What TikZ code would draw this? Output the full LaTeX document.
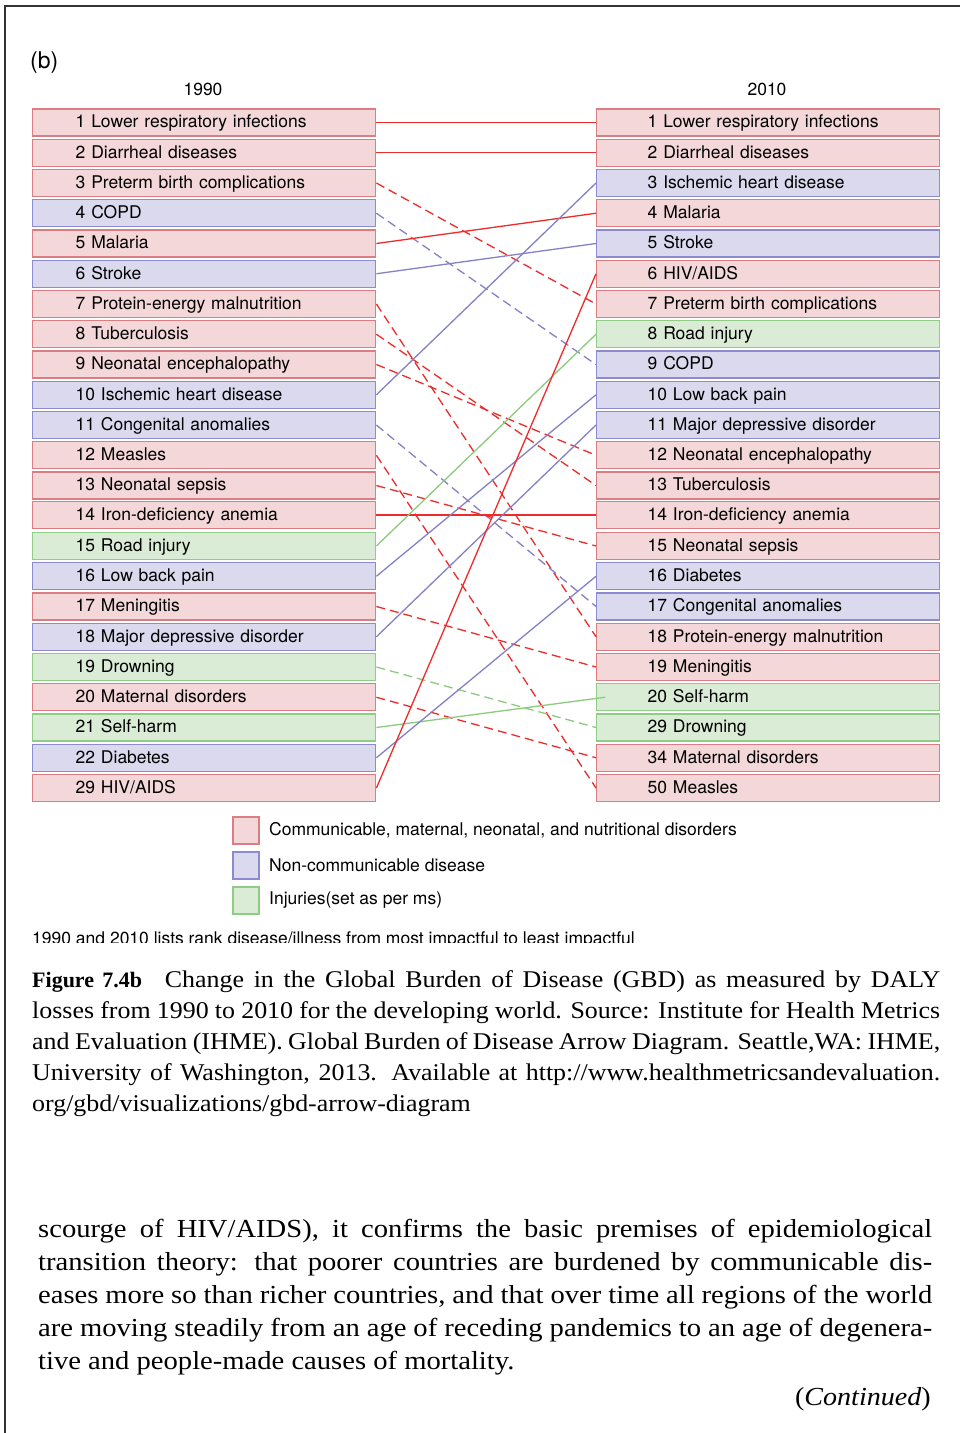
\documentclass[tikz,border=0pt]{standalone}
\usepackage{fontspec}
\setmainfont{Liberation Serif}[FakeStretch=1.08]
\newfontfamily\bodyserif{Liberation Serif}[FakeStretch=1.1]
\newfontfamily\plainserif{Liberation Serif}
\newfontfamily\heros{TeX Gyre Heros}
\definecolor{cmnfill}{HTML}{F3D7D9}
\definecolor{cmnline}{HTML}{DB7E83}
\definecolor{ncdfill}{HTML}{DBD9EE}
\definecolor{ncdline}{HTML}{8D8BD0}
\definecolor{injfill}{HTML}{DAEBD6}
\definecolor{injline}{HTML}{8FCC85}
\definecolor{cmnlink}{HTML}{EE2B2B}
\definecolor{ncdlink}{HTML}{8481C6}
\definecolor{injlink}{HTML}{8CCB7E}
\definecolor{framegray}{HTML}{333333}
\tikzset{
  sans/.style={font=\heros\fontsize{17.5}{20}\selectfont},
  box/.style={sans, draw, line width=1.4pt, minimum height=27pt, text width=343pt,
    inner xsep=0pt, inner ysep=0pt, align=left, anchor=west,
    text height=14.5pt, text depth=4pt},
  cmn/.style={box, fill=cmnfill, draw=cmnline},
  ncd/.style={box, fill=ncdfill, draw=ncdline},
  inj/.style={box, fill=injfill, draw=injline},
  key/.style={draw, line width=1.4pt, minimum width=26pt, minimum height=27pt, inner sep=0pt},
  link/.style={line width=1.3pt},
  moved/.style={link, dash pattern=on 9pt off 5pt},
  cmnup/.style={link, draw=cmnlink},   cmndown/.style={moved, draw=cmnlink},
  ncdup/.style={link, draw=ncdlink},   ncddown/.style={moved, draw=ncdlink},
  injup/.style={link, draw=injlink},   injdown/.style={moved, draw=injlink},
}
\newcommand{\lin}{\hspace*{43pt}}
\newcommand{\rin}{\hspace*{51pt}}
\begin{document}
\begin{tikzpicture}[x=1pt,y=-1pt]
\useasboundingbox (0,0) rectangle (960,1433);
\fill[white] (0,0) rectangle (960,1433);
% page frame
\draw[line width=1.6pt, framegray] (960,6) -- (5,6) -- (5,1433);

% headings
\node[font=\heros\fontsize{23}{26}\selectfont, anchor=west, inner sep=0pt] (panel) at (30,63) {(b)};
\node[sans, inner sep=0pt] (y1990) at (203,89) {1990};
\node[sans, inner sep=0pt] (y2010) at (767,89) {2010};

% 1990 ranking
\node[cmn] (L1)  at (32,122.5)  {\lin 1 Lower respiratory infections};
\node[cmn] (L2)  at (32,152.75) {\lin 2 Diarrheal diseases};
\node[cmn] (L3)  at (32,183.0)  {\lin 3 Preterm birth complications};
\node[ncd] (L4)  at (32,213.25) {\lin 4 COPD};
\node[cmn] (L5)  at (32,243.5)  {\lin 5 Malaria};
\node[ncd] (L6)  at (32,273.75) {\lin 6 Stroke};
\node[cmn] (L7)  at (32,304.0)  {\lin 7 Protein-energy malnutrition};
\node[cmn] (L8)  at (32,334.25) {\lin 8 Tuberculosis};
\node[cmn] (L9)  at (32,364.5)  {\lin 9 Neonatal encephalopathy};
\node[ncd] (L10) at (32,394.75) {\lin 10 Ischemic heart disease};
\node[ncd] (L11) at (32,425.0)  {\lin 11 Congenital anomalies};
\node[cmn] (L12) at (32,455.25) {\lin 12 Measles};
\node[cmn] (L13) at (32,485.5)  {\lin 13 Neonatal sepsis};
\node[cmn] (L14) at (32,515.0)  {\lin 14 Iron-deficiency anemia};
\node[inj] (L15) at (32,546.0)  {\lin 15 Road injury};
\node[ncd] (L16) at (32,576.25) {\lin 16 Low back pain};
\node[cmn] (L17) at (32,606.5)  {\lin 17 Meningitis};
\node[ncd] (L18) at (32,636.75) {\lin 18 Major depressive disorder};
\node[inj] (L19) at (32,667.0)  {\lin 19 Drowning};
\node[cmn] (L20) at (32,697.25) {\lin 20 Maternal disorders};
\node[inj] (L21) at (32,727.5)  {\lin 21 Self-harm};
\node[ncd] (L22) at (32,757.75) {\lin 22 Diabetes};
\node[cmn] (L23) at (32,788.0)  {\lin 29 HIV/AIDS};

% 2010 ranking
\node[cmn] (R1)  at (596,122.5)  {\rin 1 Lower respiratory infections};
\node[cmn] (R2)  at (596,152.75) {\rin 2 Diarrheal diseases};
\node[ncd] (R3)  at (596,183.0)  {\rin 3 Ischemic heart disease};
\node[cmn] (R4)  at (596,213.25) {\rin 4 Malaria};
\node[ncd] (R5)  at (596,243.5)  {\rin 5 Stroke};
\node[cmn] (R6)  at (596,273.75) {\rin 6 HIV/AIDS};
\node[cmn] (R7)  at (596,304.0)  {\rin 7 Preterm birth complications};
\node[inj] (R8)  at (596,334.25) {\rin 8 Road injury};
\node[ncd] (R9)  at (596,364.5)  {\rin 9 COPD};
\node[ncd] (R10) at (596,394.75) {\rin 10 Low back pain};
\node[ncd] (R11) at (596,425.0)  {\rin 11 Major depressive disorder};
\node[cmn] (R12) at (596,455.25) {\rin 12 Neonatal encephalopathy};
\node[cmn] (R13) at (596,485.5)  {\rin 13 Tuberculosis};
\node[cmn] (R14) at (596,515.0)  {\rin 14 Iron-deficiency anemia};
\node[cmn] (R15) at (596,546.0)  {\rin 15 Neonatal sepsis};
\node[ncd] (R16) at (596,576.25) {\rin 16 Diabetes};
\node[ncd] (R17) at (596,606.5)  {\rin 17 Congenital anomalies};
\node[cmn] (R18) at (596,636.75) {\rin 18 Protein-energy malnutrition};
\node[cmn] (R19) at (596,667.0)  {\rin 19 Meningitis};
\node[inj] (R20) at (596,697.25) {\rin 20 Self-harm};
\node[inj] (R21) at (596,727.5)  {\rin 29 Drowning};
\node[cmn] (R22) at (596,757.75) {\rin 34 Maternal disorders};
\node[cmn] (R23) at (596,788.0)  {\rin 50 Measles};

% rank changes: solid = moved up or kept, dashed = moved down
\draw[cmnup]   (L1.east)  -- (R1.west);
\draw[cmnup]   (L2.east)  -- (R2.west);
\draw[cmndown] (L3.east)  -- (R7.west);
\draw[ncddown] (L4.east)  -- (R9.west);
\draw[cmnup]   (L5.east)  -- (R4.west);
\draw[ncdup]   (L6.east)  -- (R5.west);
\draw[cmndown] (L7.east)  -- (R18.west);
\draw[cmndown] (L8.east)  -- (R13.west);
\draw[cmndown] (L9.east)  -- (R12.west);
\draw[ncdup]   (L10.east) -- (R3.west);
\draw[ncddown] (L11.east) -- (R17.west);
\draw[cmndown] (L12.east) -- (R23.west);
\draw[cmndown] (L13.east) -- (R15.west);
\draw[cmnup]   (L14.east) -- (R14.west);
\draw[injup]   (L15.east) -- (R8.west);
\draw[ncdup]   (L16.east) -- (R10.west);
\draw[cmndown] (L17.east) -- (R19.west);
\draw[ncdup]   (L18.east) -- (R11.west);
\draw[injdown] (L19.east) -- (R21.west);
\draw[cmndown] (L20.east) -- (R22.west);
\coordinate (selfharm) at ([xshift=9pt]R20.west);
\draw[injup]   (L21.east) -- (selfharm);
\draw[ncdup]   (L22.east) -- (R16.west);
\draw[cmnup]   (L23.east) -- (R6.west);

% legend
\node[key, fill=cmnfill, draw=cmnline] (k1) at (246,830.5) {};
\node[key, fill=ncdfill, draw=ncdline] (k2) at (246,865.5) {};
\node[key, fill=injfill, draw=injline] (k3) at (246,900.5) {};
\node[sans, anchor=west, inner sep=0pt] (t1) at (269,830) {Communicable, maternal, neonatal, and nutritional disorders};
\node[sans, anchor=west, inner sep=0pt] (t2) at (269,865) {Non-communicable disease};
\node[sans, anchor=west, inner sep=0pt] (t3) at (269,900.5) {Injuries(set as per ms)};

% footnote, trimmed at the bottom edge of the figure
\begin{scope}
  \clip (0,915) rectangle (960,942);
  \node[sans, anchor=base west, inner sep=0pt] (note) at (32,944)
    {1990 and 2010 lists rank disease/illness from most impactful to least impactful};
\end{scope}

% caption
\node[anchor=base west, inner sep=0pt, text width=908pt, align=justify,
      font=\fontsize{24}{31}\selectfont] (caption) at (32,987)
  {{\plainserif\bfseries\fontsize{22}{31}\selectfont Figure 7.4b}\hspace{13pt} Change in the Global Burden of Disease (GBD) as measured by DALY\linebreak
   losses from 1990 to 2010 for the developing world. Source: Institute for Health Metrics\linebreak
   and Evaluation (IHME). Global Burden of Disease Arrow Diagram. Seattle,WA: IHME,\linebreak
   University of Washington, 2013. Available at http://www.healthmetricsandevaluation.\linebreak
   org/gbd/visualizations/gbd-arrow-diagram};

% running text
\node[anchor=base west, inner sep=0pt, text width=894pt, align=justify,
      font=\bodyserif\fontsize{26}{33}\selectfont] (body) at (38,1237)
  {scourge of HIV/AIDS), it confirms the basic premises of epidemiological\linebreak
   transition theory: that poorer countries are burdened by communicable dis-\linebreak
   eases more so than richer countries, and that over time all regions of the world\linebreak
   are moving steadily from an age of receding pandemics to an age of degenera-\linebreak
   tive and people-made causes of mortality.};
\node[anchor=base east, inner sep=0pt, font=\fontsize{26}{33}\selectfont] (cont) at (931,1405)
  {(\textit{Continued})};
\end{tikzpicture}
\end{document}
